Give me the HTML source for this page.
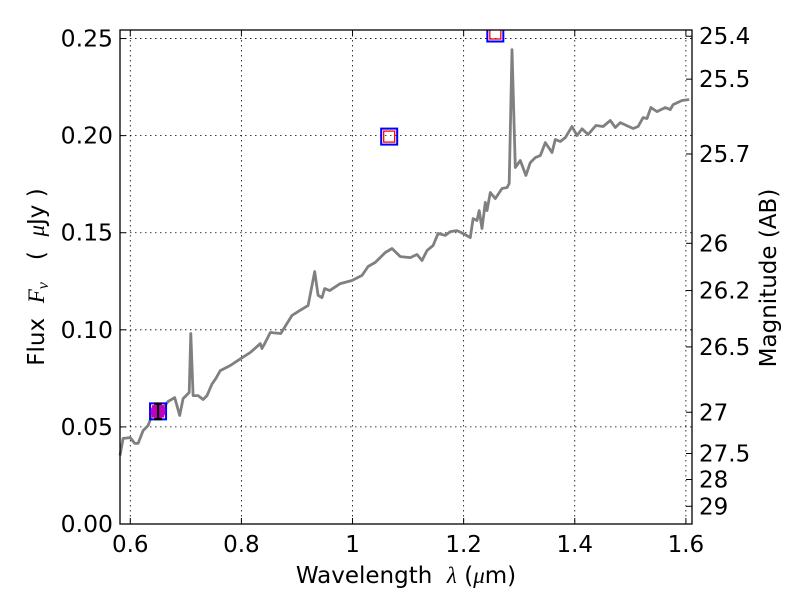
<!DOCTYPE html>
<html><head><meta charset="utf-8"><style>
html,body{margin:0;padding:0;background:#fff;}
svg{display:block;font-family:"DejaVu Sans","Liberation Sans",sans-serif;}
text{white-space:pre;}
</style></head><body>
<svg id="chart" width="800" height="600" viewBox="0 0 800 600">
<rect x="0" y="0" width="800" height="600" fill="#fff"/>
<g id="grid"></g>
<g id="plot"></g>
<rect x="120" y="30" width="572" height="494" fill="none" stroke="#000" stroke-width="1.3"/>
<g id="axes"></g>
<text x="406" y="583" font-size="23" text-anchor="middle">Wavelength  <tspan font-family="Liberation Serif" font-style="italic">λ</tspan> (<tspan font-family="Liberation Serif" font-style="italic">μ</tspan>m)</text>
<text transform="translate(44,277) rotate(-90)" font-size="23" text-anchor="middle">Flux  <tspan font-family="Liberation Serif" font-style="italic">F<tspan font-size="16" dy="4">ν</tspan></tspan><tspan dy="-4">   (  </tspan><tspan font-family="Liberation Serif" font-style="italic">μ</tspan>Jy )</text>
<text transform="translate(776,278) rotate(-90)" font-size="23" text-anchor="middle">Magnitude (AB)</text>
</svg>
<script>
const specWave=[0.5815,0.587,0.600,0.608,0.614,0.623,0.632,0.639,0.653,0.668,0.680,0.689,0.695,0.706,0.709,0.713,0.722,0.731,0.738,0.747,0.754,0.762,0.780,0.799,0.816,0.834,0.837,0.843,0.852,0.871,0.891,0.905,0.920,0.932,0.938,0.945,0.950,0.959,0.978,0.999,1.017,1.028,1.041,1.059,1.071,1.086,1.104,1.116,1.125,1.134,1.145,1.154,1.167,1.176,1.188,1.199,1.212,1.217,1.224,1.228,1.233,1.239,1.242,1.248,1.257,1.269,1.278,1.282,1.287,1.293,1.302,1.312,1.320,1.329,1.338,1.347,1.359,1.365,1.374,1.383,1.395,1.404,1.413,1.424,1.438,1.451,1.464,1.473,1.482,1.505,1.514,1.523,1.530,1.537,1.548,1.563,1.572,1.577,1.593,1.606];
const specFlux=[0.0353,0.0441,0.0445,0.0415,0.0415,0.0481,0.0507,0.0559,0.0574,0.0631,0.0651,0.0559,0.0646,0.0677,0.0981,0.0661,0.0661,0.0641,0.0661,0.0721,0.0749,0.079,0.0816,0.0852,0.0883,0.0929,0.0904,0.0935,0.0986,0.0981,0.1074,0.1099,0.1125,0.130,0.1177,0.1166,0.1213,0.1202,0.1238,0.1254,0.128,0.1326,0.1347,0.1398,0.1419,0.1377,0.1372,0.1388,0.1357,0.1408,0.1434,0.1496,0.1486,0.1506,0.1511,0.1496,0.1475,0.1573,0.1563,0.1614,0.1522,0.1656,0.1614,0.1707,0.1676,0.1728,0.1733,0.1753,0.2443,0.1836,0.1872,0.1795,0.1861,0.1887,0.1897,0.1964,0.1913,0.198,0.197,0.199,0.2047,0.2,0.2035,0.2006,0.2052,0.2047,0.2078,0.2042,0.2067,0.2037,0.2047,0.2093,0.2088,0.2145,0.2124,0.2145,0.2134,0.216,0.2181,0.2186];
const photWave=[0.65,1.066,1.257];
const photFlux=[0.058,0.1995,0.2526];
const obsWave=[0.65];
const obsFlux=[0.058];
const obsErr=[0.004];
const xTicks=[0.6,0.8,1.0,1.2,1.4,1.6];
const xTickLabels=["0.6","0.8","1","1.2","1.4","1.6"];
const yTicks=[0,0.05,0.10,0.15,0.20,0.25];
const yTickLabels=["0.00","0.05","0.10","0.15","0.20","0.25"];
const magTicks=[25.4,25.5,25.7,26,26.2,26.5,27,27.5,28,29];
const magTickLabels=["25.4","25.5","25.7","26","26.2","26.5","27","27.5","28","29"];

const NS="http://www.w3.org/2000/svg";
const L=120,R=692,T=30,B=524,XMIN=0.5815,XMAX=1.611,YMIN=0,YMAX=0.2544;
const xs=v=>L+(v-XMIN)/(XMAX-XMIN)*(R-L);
const ys=v=>B-(v-YMIN)/(YMAX-YMIN)*(B-T);
function mk(tag,attrs,parent){const e=document.createElementNS(NS,tag);for(const k in attrs)e.setAttribute(k,attrs[k]);parent.appendChild(e);return e;}
const grid=document.getElementById('grid'),plot=document.getElementById('plot'),axes=document.getElementById('axes');

xTicks.forEach((t,i)=>{const x=xs(t);
 let g=mk('line',{x1:x,x2:x,y1:T,y2:B,stroke:'#000','stroke-width':0.8,'stroke-dasharray':'1.5,3.5'},grid);
 
 let a=mk('line',{x1:x,x2:x,y1:B,y2:B-6,stroke:'#000','stroke-width':1},axes);
 
 let b=mk('line',{x1:x,x2:x,y1:T,y2:T+6,stroke:'#000','stroke-width':1},axes);
 
 let tx=mk('text',{x:x,y:B+28,'font-size':23,'text-anchor':'middle'},axes);tx.textContent=xTickLabels[i];
 
});
yTicks.forEach((t,i)=>{const y=ys(t);
 let g=mk('line',{x1:L,x2:R,y1:y,y2:y,stroke:'#000','stroke-width':0.8,'stroke-dasharray':'1.5,3.5'},grid);
 
 let a=mk('line',{x1:L,x2:L+6,y1:y,y2:y,stroke:'#000','stroke-width':1},axes);
 
 let tx=mk('text',{x:L-7,y:y+8,'font-size':23.5,'text-anchor':'end'},axes);tx.textContent=yTickLabels[i];
 
});
magTicks.forEach((m,i)=>{const y=ys(Math.pow(10,(23.9-m)/2.5));
 let a=mk('line',{x1:R,x2:R-6,y1:y,y2:y,stroke:'#000','stroke-width':1},axes);
 
 let tx=mk('text',{x:R+7,y:y+8,'font-size':23,'text-anchor':'start'},axes);tx.textContent=magTickLabels[i];
 
});
const pts=specWave.map((w,i)=>xs(w).toFixed(1)+','+ys(specFlux[i]).toFixed(1)).join(' ');
let sp=mk('polyline',{points:pts,fill:'none',stroke:'#808080','stroke-width':2.8,'stroke-linejoin':'round'},plot);

const clip=mk('clipPath',{id:'pc'},document.getElementById('chart'));
mk('rect',{x:L,y:T,width:R-L,height:B-T},clip);
photWave.forEach((w,i)=>{const x=xs(w),y=ys(photFlux[i]);
 let b=mk('rect',{x:x-8,y:y-8,width:16,height:16,fill:'none',stroke:'#0000ff','stroke-width':2,'clip-path':'url(#pc)'},plot);
 
 let r=mk('rect',{x:x-5.5,y:y-5.5,width:11,height:11,fill:'none',stroke:'#ff0000','stroke-width':1.3,'clip-path':'url(#pc)'},plot);
 
});
obsWave.forEach((w,i)=>{const x=xs(w),y=ys(obsFlux[i]);
 let c=mk('circle',{cx:x,cy:y,r:7.5,fill:'#bf00bf'},plot);
 
 const y1=ys(obsFlux[i]+obsErr[i]),y2=ys(obsFlux[i]-obsErr[i]);
 let e=mk('path',{d:`M${x},${y1}V${y2}M${x-4},${y1}H${x+4}M${x-4},${y2}H${x+4}`,stroke:'#000','stroke-width':2.2,fill:'none'},plot);
 
});
</script>
</body></html>
